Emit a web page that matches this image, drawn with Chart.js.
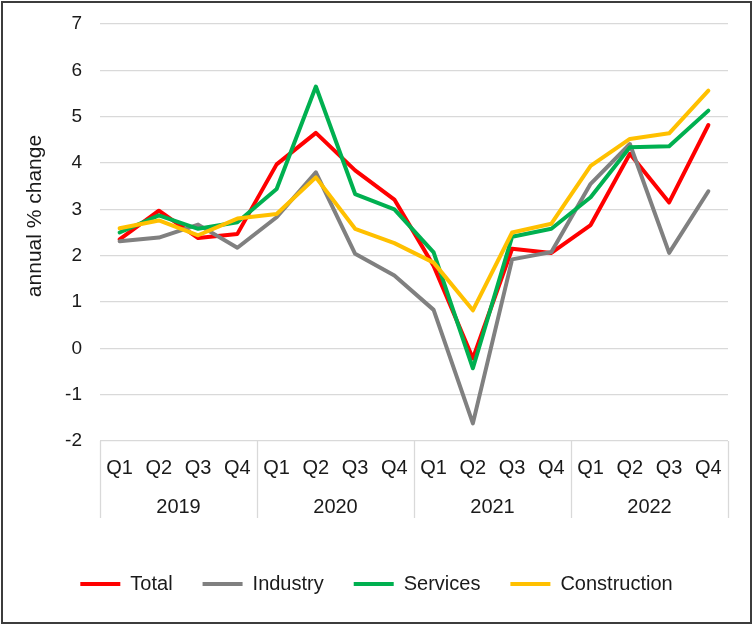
<!DOCTYPE html>
<html>
<head>
<meta charset="utf-8">
<script src="https://cdn.jsdelivr.net/npm/chart.js@4"></script>
<style>
  html, body { margin: 0; padding: 0; background: #fff; }
  #wrap { width: 753px; height: 625px; }
</style>
</head>
<body>
<div id="wrap"><canvas id="grafico" width="753" height="625"></canvas></div>
<script>
// categorías y series
const quarters = ['Q1', 'Q2', 'Q3', 'Q4', 'Q1', 'Q2', 'Q3', 'Q4', 'Q1', 'Q2', 'Q3', 'Q4', 'Q1', 'Q2', 'Q3', 'Q4'];
const years = ['2019', '2020', '2021', '2022'];
const total = [2.35, 2.97, 2.38, 2.47, 3.97, 4.65, 3.84, 3.21, 1.78, -0.22, 2.15, 2.06, 2.66, 4.2, 3.15, 4.82];
const industry = [2.31, 2.39, 2.67, 2.17, 2.83, 3.8, 2.04, 1.57, 0.83, -1.62, 1.92, 2.08, 3.55, 4.41, 2.06, 3.39];
const services = [2.5, 2.87, 2.58, 2.72, 3.44, 5.65, 3.33, 3.0, 2.07, -0.43, 2.41, 2.58, 3.26, 4.34, 4.36, 5.13];
const construction = [2.59, 2.76, 2.44, 2.8, 2.9, 3.69, 2.58, 2.27, 1.85, 0.82, 2.5, 2.69, 3.94, 4.52, 4.64, 5.56];
const yTitle = 'annual % change';

const FONT = '"Liberation Sans", Arial, sans-serif';
const TEXT = '#1a1a1a';
const GRID = '#d9d9d9';

// fondo blanco, borde exterior, separadores de años y título del eje Y
const marco = {
    id: 'marco',
    beforeDraw(chart) {
        const c = chart.ctx;
        c.save();
        c.fillStyle = '#fff';
        c.fillRect(0, 0, chart.width, chart.height);
        c.restore();
    },
    afterDraw(chart) {
        const c = chart.ctx;
        const a = chart.chartArea;
        const x2 = chart.scales.x2;
        c.save();
        c.strokeStyle = GRID;
        c.lineWidth = 1.3;
        const step = (a.right - a.left) / years.length;
        for (let j = 0; j <= years.length; j++) {
            const px = Math.round(a.left + j * step) + 0.5;
            c.beginPath();
            c.moveTo(px, a.bottom);
            c.lineTo(px, x2.top + 27);
            c.stroke();
        }
        // título del eje
        c.fillStyle = TEXT;
        c.font = '21px ' + FONT;
        c.textAlign = 'center';
        c.textBaseline = 'middle';
        c.translate(35, 216);
        c.rotate(-Math.PI / 2);
        c.fillText(yTitle, 0, 0);
        c.restore();
        // borde
        c.save();
        c.strokeStyle = '#3c3c3c';
        c.lineWidth = 2;
        c.strokeRect(2, 2, chart.width - 4, chart.height - 4);
        c.restore();
    }
};

function serie(label, data, color, order) {
    return {
        label: label,
        data: data,
        borderColor: color,
        backgroundColor: color,
        borderWidth: 4,
        pointRadius: 0,
        tension: 0,
        borderJoinStyle: 'round',
        borderCapStyle: 'round',
        order: order
    };
}

document.addEventListener('DOMContentLoaded', function () {
    const ctx = document.getElementById('grafico').getContext('2d');
    new Chart(ctx, {
        type: 'line',
        data: {
            labels: quarters,
            datasets: [
                serie('Total', total, '#ff0000', 3),
                serie('Industry', industry, '#808080', 2),
                serie('Services', services, '#00b050', 1),
                serie('Construction', construction, '#ffc000', 0)
            ]
        },
        options: {
            responsive: false,
            animation: false,
            layout: { padding: { left: 25, right: 25, top: 24, bottom: 21 } },
            plugins: {
                tooltip: { enabled: false },
                legend: {
                    position: 'bottom',
                    labels: {
                        usePointStyle: true,
                        pointStyle: 'line',
                        pointStyleWidth: 40,
                        boxHeight: 20,
                        padding: 30,
                        color: TEXT,
                        font: { family: FONT, size: 20 },
                        sort: (a, b) => a.datasetIndex - b.datasetIndex
                    }
                }
            },
            scales: {
                x: {
                    type: 'category',
                    offset: true,
                    grid: { display: false, drawTicks: false },
                    border: { display: false },
                    ticks: { color: TEXT, font: { family: FONT, size: 20 }, padding: 15, maxRotation: 0, autoSkip: false },
                    afterFit: s => { s.height = 50; }
                },
                x2: {
                    type: 'category',
                    labels: years,
                    offset: true,
                    position: 'bottom',
                    grid: { display: false, drawTicks: false },
                    border: { display: false },
                    ticks: { color: TEXT, font: { family: FONT, size: 20 }, padding: 4, maxRotation: 0 },
                    afterFit: s => { s.height = 53; }
                },
                y: {
                    min: -2,
                    max: 7,
                    ticks: { stepSize: 1, color: TEXT, font: { family: FONT, size: 19 }, padding: 18 },
                    grid: { color: GRID, lineWidth: 1.3, drawTicks: false },
                    border: { display: false },
                    afterFit: s => {
                        s.width = 75;
                        // el padding de los ticks no debe empujar el área del gráfico
                        s.paddingTop = 0;
                        s.paddingBottom = 0;
                    }
                }
            }
        },
        plugins: [marco]
    });
});
</script>
</body>
</html>
